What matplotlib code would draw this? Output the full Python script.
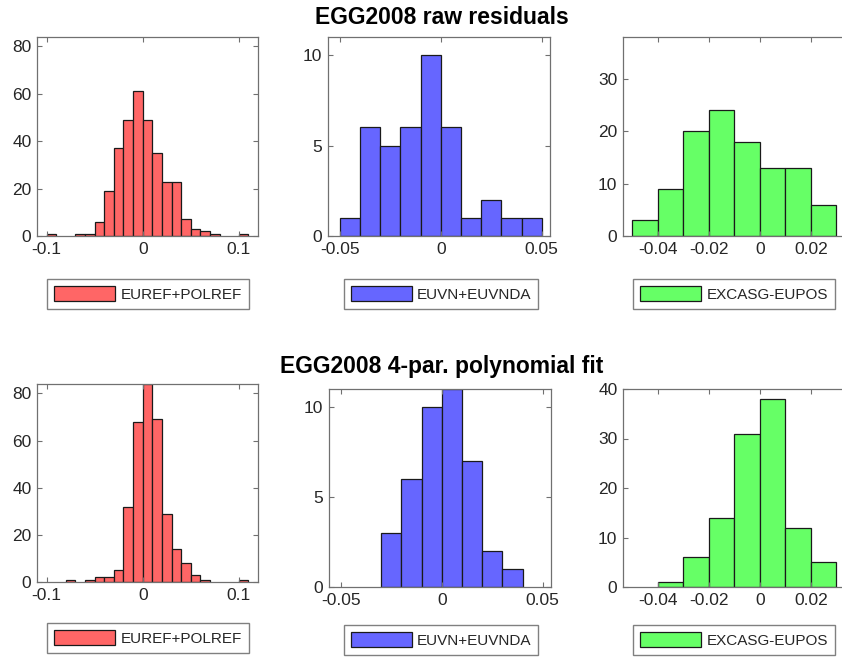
import numpy as np
import matplotlib.pyplot as plt
from matplotlib.patches import Patch

plt.rcParams['font.family'] = ['Liberation Sans', 'DejaVu Sans']

# bin edges (width 0.01) and counts
edges_a = np.round(np.arange(-0.10, 0.1101, 0.01), 3)
edges_b = np.round(np.arange(-0.05, 0.0501, 0.01), 3)
edges_c = np.round(np.arange(-0.05, 0.0301, 0.01), 3)

raw_euref = [1, 0, 0, 1, 1, 6, 19, 37, 49, 61, 49, 35, 23, 23, 7, 3, 2, 1, 0, 0, 1]
raw_euvn = [1, 6, 5, 6, 10, 6, 1, 2, 1, 1]
raw_excasg = [3, 9, 20, 24, 18, 13, 13, 6]

fit_euref = [0, 0, 1, 0, 1, 2, 2, 5, 32, 68, 84, 69, 29, 14, 8, 3, 1, 0, 0, 0, 1]
fit_euvn = [0, 0, 3, 6, 10, 11, 7, 2, 1, 0]
fit_excasg = [0, 1, 6, 14, 31, 38, 12, 5]

labels = ['EUREF+POLREF', 'EUVN+EUVNDA', 'EXCASG-EUPOS']
colors = ['#ff6666', '#6666ff', '#66ff66']
titles = ['EGG2008 raw residuals', 'EGG2008 4-par. polynomial fit']

xticks = [[-0.1, 0, 0.1], [-0.05, 0, 0.05], [-0.04, -0.02, 0, 0.02]]
xticklabels = [['-0.1', '0', '0.1'], ['-0.05', '0', '0.05'], ['-0.04', '-0.02', '0', '0.02']]
xlims = [(-0.11, 0.12), (-0.0558, 0.0541), (-0.0537, 0.0373)]
yticks = [[0, 20, 40, 60, 80], [0, 5, 10], [0, 10, 20, 30],
          [0, 20, 40, 60, 80], [0, 5, 10], [0, 10, 20, 30, 40]]
ylims = [84, 11, 38, 84, 11, 40]

W, H = 842, 658
fig = plt.figure(figsize=(W / 100, H / 100), dpi=100)

# axes boxes in pixels: left, right, top, bottom (right column runs off the page)
boxes = [(37, 258, 37, 236), (328, 550, 37, 236), (623, 855, 37, 236),
         (37, 258, 384, 582), (329, 551, 389, 587), (623, 855, 389, 587)]
legend_y = [294, 294, 294, 638, 640, 640]
legend_x = [148, 441, 734]

data = [(edges_a, raw_euref), (edges_b, raw_euvn), (edges_c, raw_excasg),
        (edges_a, fit_euref), (edges_b, fit_euvn), (edges_c, fit_excasg)]

gray = '#707070'
edge = '#1a1a1a'
for i, (edges, counts) in enumerate(data):
    col = i % 3
    l, r, t, b = boxes[i]
    ax = fig.add_axes([l / W, 1 - b / H, (r - l) / W, (b - t) / H])
    bars = ax.bar(edges[:-1], counts, width=0.01, align='edge', color=colors[col],
                  edgecolor=edge, linewidth=0.9)
    # empty bins: no outline along the baseline
    for p, c in zip(bars, counts):
        if c == 0:
            p.set_linewidth(0)
    ax.set_xlim(*xlims[col])
    ax.set_ylim(0, ylims[i])
    ax.set_xticks(xticks[col])
    ax.set_xticklabels(xticklabels[col])
    ax.set_yticks(yticks[i])
    ax.tick_params(direction='in', top=True, right=True, length=3.5, width=0.8,
                   color=gray, labelcolor='#262626', labelsize=12.5, pad=4)
    for s in ax.spines.values():
        s.set_color(gray)
        s.set_linewidth(0.9)
    handle = Patch(facecolor=colors[col], edgecolor=edge, linewidth=0.9)
    leg = ax.legend([handle], [labels[col]], loc='center',
                    bbox_to_anchor=(legend_x[col] / W, 1 - legend_y[i] / H),
                    bbox_transform=fig.transFigure, fontsize=11, handlelength=4.0,
                    handleheight=1.1, handletextpad=0.35, borderpad=0.45,
                    fancybox=False, framealpha=1, edgecolor='#808080')
    leg.get_frame().set_linewidth(1.0)
    for txt in leg.get_texts():
        txt.set_color('#262626')

fig.text(442 / W, 1 - 18 / H, titles[0], ha='center', va='center',
         fontsize=16.5, fontweight='bold')
fig.text(442 / W, 1 - 366 / H, titles[1], ha='center', va='center',
         fontsize=16.5, fontweight='bold')

fig.savefig('out.png', dpi=100)
